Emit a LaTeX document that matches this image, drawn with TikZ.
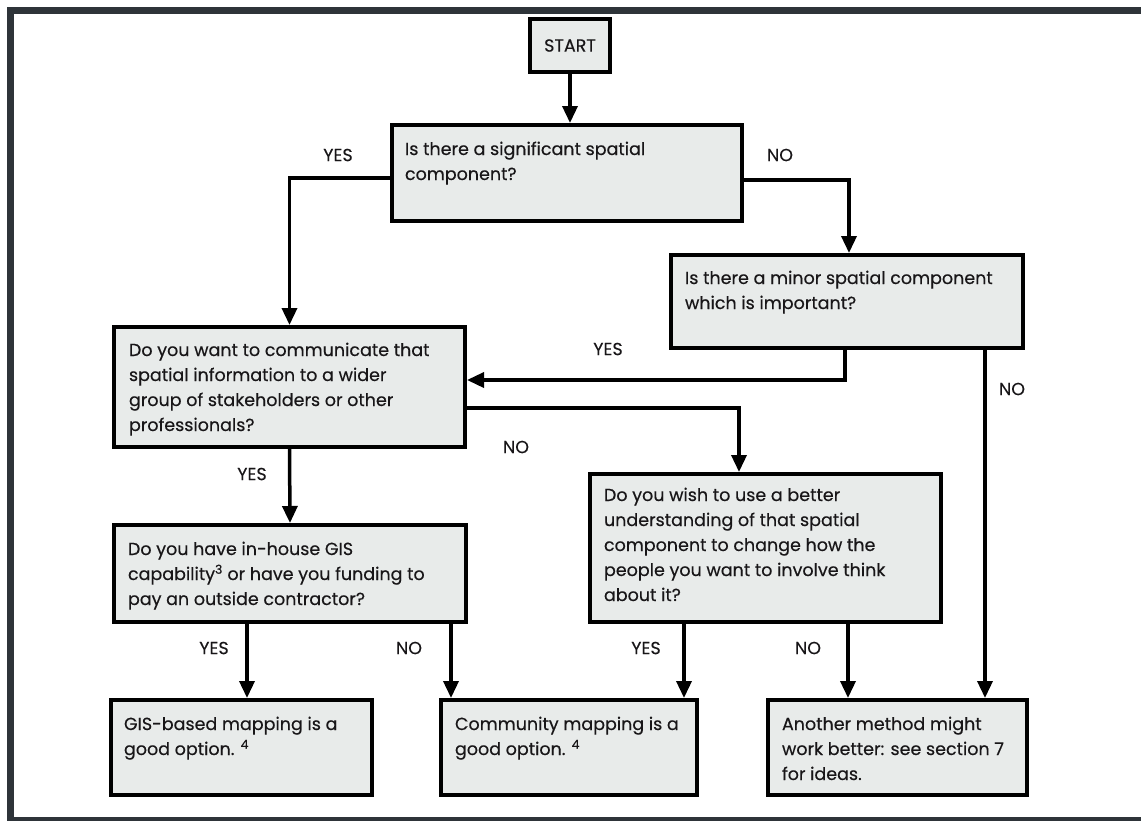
\documentclass[tikz,border=0pt]{standalone}
\usepackage{fontspec}
\setmainfont{Poppins}[FakeBold=0.35]
\usetikzlibrary{arrows.meta}

\definecolor{framecol}{RGB}{46,52,57}
\definecolor{boxfill}{RGB}{232,235,234}
\definecolor{inkcol}{RGB}{24,22,24}

% text block inside a box: width, height, left indent, first-baseline drop, text
\newcommand{\boxtxt}[5]{\parbox[c][#2][t]{#1}{\leftskip=#3\relax\rule{0pt}{#4}#5}}

\begin{document}
\begin{tikzpicture}[x=1pt,y=-1pt,
  every node/.style={font=\fontsize{17.5}{25}\selectfont, text=inkcol},
  qbox/.style={draw=black, line width=4pt, fill=boxfill, inner sep=0pt, anchor=north west},
  flow/.style={draw=black, line width=3.5pt, -{Triangle[length=17pt,width=15pt]}},
  lbl/.style={inner sep=0pt}]
\useasboundingbox (0,0) rectangle (1141,820);
\clip (0,0) rectangle (1141,820);

% page frame
\draw[framecol, line width=7pt] (10.5,820.5) -- (10.5,10.5) -- (1160,10.5);
\draw[framecol, line width=7pt] (10.5,820.5) -- (1160,820.5);

% boxes
\node[qbox, minimum width=80pt, minimum height=53pt, anchor=center] (start) at (570,45.5) {START};
\node[qbox] (q1) at (390,123)
  {\boxtxt{350pt}{96pt}{13pt}{30pt}{Is there a significant spatial\\component?}};
\node[qbox] (q2) at (669,253)
  {\boxtxt{352pt}{93pt}{14pt}{29pt}{Is there a minor spatial component\\which is important?}};
\node[qbox] (q3) at (112,325)
  {\boxtxt{351pt}{120pt}{15pt}{29pt}{Do you want to communicate that\\spatial information to a wider\\group of stakeholders or other\\professionals?}};
\node[qbox] (q4) at (112,523)
  {\boxtxt{352pt}{97pt}{14pt}{30pt}{Do you have in-house GIS\\capability\textsuperscript{3} or have you funding to\\pay an outside contractor?}};
\node[qbox] (q5) at (588,472)
  {\boxtxt{351pt}{148pt}{14pt}{27pt}{Do you wish to use a better\\understanding of that spatial\\component to change how the\\people you want to involve think\\about it?}};
\node[qbox] (gis) at (109,698)
  {\boxtxt{261pt}{95pt}{13pt}{30pt}{GIS-based mapping is a\\good option. \textsuperscript{4}}};
\node[qbox] (comm) at (439,698)
  {\boxtxt{256pt}{95pt}{14pt}{30pt}{Community mapping is a\\good option. \textsuperscript{4}}};
\node[qbox] (other) at (766,698)
  {\boxtxt{259pt}{95pt}{14pt}{30pt}{Another method might\\work better: see section 7\\for ideas.}};

% connectors
\draw[flow] (start.south) -- (start.south |- q1.north);
\draw[flow] (q1.west |- 0,178) -| (q3.north);
\draw[flow] (q1.east |- 0,180) -| (q2.north -| 849,0);
\draw[flow] (q2.south -| 845,0) |- (q3.east |- 0,380);
\draw[flow] (q2.south -| 985,0) -- (other.north -| 985,0);
\draw[flow] (q3.east |- 0,408) -| (q5.north -| 739,0);
\draw[flow] (q3.south) -- (q4.north);
\draw[flow] (q4.south -| 247,0) -- (gis.north -| 247,0);
\draw[flow] (q4.south -| 451,0) -- (comm.north -| 451,0);
\draw[flow] (q5.south -| 684,0) -- (comm.north -| 684,0);
\draw[flow] (q5.south -| 848,0) -- (other.north -| 848,0);

% branch labels
\node[lbl] (l1) at (338,155) {YES};
\node[lbl] (l2) at (780,155) {NO};
\node[lbl] (l3) at (608,349) {YES};
\node[lbl] (l4) at (1012,389) {NO};
\node[lbl] (l5) at (516,447) {NO};
\node[lbl] (l6) at (252,474) {YES};
\node[lbl] (l7) at (214,648) {YES};
\node[lbl] (l8) at (409,648) {NO};
\node[lbl] (l9) at (646,648) {YES};
\node[lbl] (l10) at (808,648) {NO};
\end{tikzpicture}
\end{document}
